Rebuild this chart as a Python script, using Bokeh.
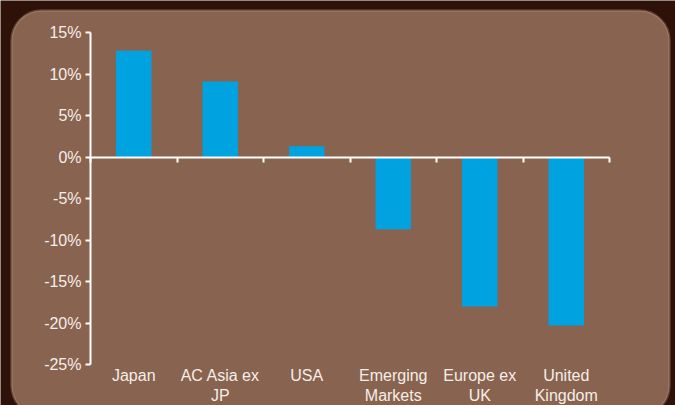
from bokeh.plotting import figure
from bokeh.models import Range1d, FixedTicker, LinearAxis, BoxAnnotation
from bokeh.embed import file_html
from bokeh.resources import INLINE

# Regional equity returns
regions = ["Japan", "AC Asia ex JP", "USA", "Emerging Markets", "Europe ex UK", "United Kingdom"]
region_labels = ["Japan", "AC Asia ex\nJP", "USA", "Emerging\nMarkets", "Europe ex\nUK", "United\nKingdom"]
returns = [12.8, 9.1, 1.3, -8.7, -18.0, -20.3]
y_ticks = [-25, -20, -15, -10, -5, 0, 5, 10, 15]

DARK = "#2E120A"
PANEL = "#88634F"
EDGE = "#C8A78C"
BAR = "#00A3E0"
TEXT = "#F6EEE8"
FONT = "Liberation Sans"

W, H = 675, 405
n = len(regions)
centers = [i + 0.5 for i in range(n)]
bounds = list(range(n + 1))

# canvas layout (pixels): plot area spans x 90..609, y 32..364
LEFT_PX, RIGHT_PX, TOP_PX, BOTTOM_PX = 90, 609, 32, 364
x_unit = (RIGHT_PX - LEFT_PX) / n
y_unit = (BOTTOM_PX - TOP_PX) / (y_ticks[-1] - y_ticks[0])


def px_x(px):
    return (px - LEFT_PX) / x_unit


def px_y(py):
    return y_ticks[-1] - (py - TOP_PX) / y_unit


# the frame fills the whole canvas; axes sit at fixed data locations
p = figure(width=W, height=H, output_backend="svg", toolbar_location=None,
           x_range=Range1d(px_x(0), px_x(W)), y_range=Range1d(px_y(H), px_y(0)),
           min_border=0, x_axis_location=None, y_axis_location=None)
p.border_fill_color = DARK
p.background_fill_color = DARK
p.outline_line_color = None
p.grid.visible = False

# rounded panel behind the chart
panel = BoxAnnotation(left=px_x(11), right=px_x(669), top=px_y(10), bottom=px_y(415),
                      fill_color=PANEL, fill_alpha=1.0, line_color=EDGE, line_width=2.5,
                      border_radius=30, level="underlay")
p.add_layout(panel)

p.vbar(x=centers, top=returns, bottom=0, width=0.41, fill_color=BAR, line_color=None)

# y axis with percentage labels
ya = LinearAxis(fixed_location=0, bounds=(y_ticks[0], y_ticks[-1]),
                ticker=FixedTicker(ticks=y_ticks),
                major_label_overrides={t: f"{t}%" for t in y_ticks},
                axis_line_color="white", axis_line_width=2,
                major_tick_line_color="white", major_tick_line_width=2,
                major_tick_out=5, major_tick_in=0, minor_tick_line_color=None,
                major_label_standoff=4, major_label_text_color=TEXT,
                major_label_text_font=FONT, major_label_text_font_size="16px")
p.add_layout(ya, "left")

# zero line with category boundary ticks
zero_axis = LinearAxis(fixed_location=0, bounds=(0, n), ticker=FixedTicker(ticks=bounds),
                       major_label_overrides={b: "" for b in bounds},
                       axis_line_color="white", axis_line_width=2,
                       major_tick_line_color="white", major_tick_line_width=2,
                       major_tick_out=5, major_tick_in=0, minor_tick_line_color=None)
p.add_layout(zero_axis, "below")

# category labels along the bottom
cat_axis = LinearAxis(fixed_location=y_ticks[0], ticker=FixedTicker(ticks=centers),
                      major_label_overrides={c: lab for c, lab in zip(centers, region_labels)},
                      axis_line_color=None, major_tick_line_color=None,
                      major_tick_out=0, major_tick_in=0,
                      minor_tick_line_color=None, major_label_standoff=2,
                      major_label_text_color=TEXT, major_label_text_font=FONT,
                      major_label_text_font_size="16px")
p.add_layout(cat_axis, "below")

open("out.html", "w").write(file_html(p, INLINE))
